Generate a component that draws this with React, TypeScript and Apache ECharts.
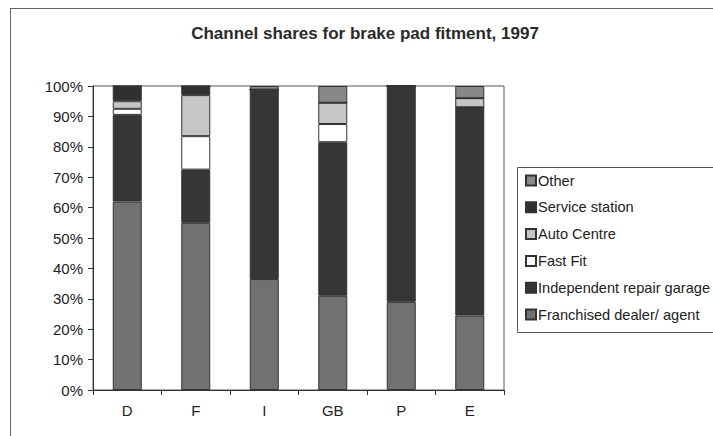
import React, { useEffect, useRef } from "react";
import * as echarts from "echarts";

const categories = ["D", "F", "I", "GB", "P", "E"];
const franchised = [62, 55, 36.5, 31, 29, 24.5];
const independent = [28.5, 17.5, 62.3, 50.5, 71, 68.5];
const fastFit = [2, 11, 0, 6, 0, 0];
const autoCentre = [2.5, 13.5, 0, 7, 0, 3];
const serviceStation = [5, 3, 0, 0, 0, 0];
const other = [0, 0, 1.2, 5.5, 0, 4];

const seriesNames = [
  "Franchised dealer/ agent",
  "Independent repair garage",
  "Fast Fit",
  "Auto Centre",
  "Service station",
  "Other",
];
const seriesData = [franchised, independent, fastFit, autoCentre, serviceStation, other];
const seriesColors = ["#717171", "#363636", "#ffffff", "#c6c6c6", "#303030", "#888888"];

const FONT = "'Liberation Sans', Arial, sans-serif";

export default function App() {
  const ref = useRef<HTMLDivElement>(null);
  useEffect(() => {
    if (!ref.current) return;
    const chart = echarts.init(ref.current, null, { renderer: "svg" });
    chart.setOption({
      animation: false,
      backgroundColor: "#ffffff",
      title: {
        text: "Channel shares for brake pad fitment, 1997",
        left: 360,
        textAlign: "center",
        top: 20,
        textStyle: { fontFamily: FONT, fontSize: 17, fontWeight: "bold", color: "#2a2a2a" },
      },
      graphic: [
        { type: "line", shape: { x1: 10, y1: 8.5, x2: 713, y2: 8.5 }, style: { stroke: "#666", lineWidth: 1 } },
        { type: "line", shape: { x1: 10.5, y1: 8, x2: 10.5, y2: 436 }, style: { stroke: "#666", lineWidth: 1 } },
        { type: "rect", shape: { x: 517.5, y: 167.5, width: 220, height: 165 }, style: { stroke: "#555", fill: "none", lineWidth: 1 } },
      ],
      legend: {
        orient: "vertical",
        left: 520,
        top: 168,
        itemWidth: 10,
        itemHeight: 10,
        itemGap: 11.8,
        icon: "rect",
        data: [...seriesNames].reverse(),
        textStyle: { fontFamily: FONT, fontSize: 14.6, color: "#222", padding: [0, 0, 0, -3], lineHeight: 15 },
      },
      grid: {
        left: 93,
        right: 209,
        top: 86,
        bottom: 46,
        show: true,
        borderColor: "#555",
        borderWidth: 1,
      },
      xAxis: {
        type: "category",
        data: categories,
        axisLine: { lineStyle: { color: "#333" } },
        axisTick: { show: true, length: 5, lineStyle: { color: "#333" } },
        axisLabel: { fontFamily: FONT, fontSize: 15, color: "#222", margin: 13 },
      },
      yAxis: {
        type: "value",
        min: 0,
        max: 100,
        interval: 10,
        axisLine: { show: true, lineStyle: { color: "#333" } },
        axisTick: { show: true, length: 5, lineStyle: { color: "#333" } },
        splitLine: { show: false },
        axisLabel: { fontFamily: FONT, fontSize: 15, color: "#222", formatter: "{value}%", margin: 10 },
      },
      series: seriesNames.map((name, i) => ({
        name,
        type: "bar",
        stack: "total",
        barWidth: 29,
        data: seriesData[i],
        itemStyle: { color: seriesColors[i], borderColor: "#333", borderWidth: 1 },
      })),
    });
    return () => chart.dispose();
  }, []);
  return <div ref={ref} style={{ width: 713, height: 436, position: "absolute", left: 0, top: 0 }} />;
}
